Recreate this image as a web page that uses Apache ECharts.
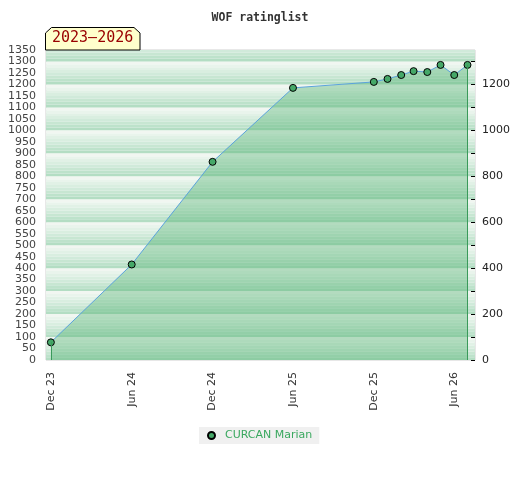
<!DOCTYPE html>
<html lang="en">

<head>
    <meta charset="UTF-8">
    <title>WOF ratinglist</title>
    <script src="https://cdn.jsdelivr.net/npm/echarts@6.0.0/dist/echarts.min.js"></script>
    <style>
        html, body { margin: 0; padding: 0; background: #fff; }
    </style>
</head>

<body>
    <div id="container" style="width: 520px; height: 480px"></div>
    <script>
        // rating list dates (month) and ratings
        var listDates = ['2023-12', '2024-06', '2024-12', '2025-06', '2025-12',
            '2026-01', '2026-02', '2026-03', '2026-04', '2026-05', '2026-06', '2026-07'];
        var ratings = [77, 416, 863, 1185, 1211, 1224, 1241, 1258, 1254, 1285, 1241, 1285];

        var xTickDates = ['2023-12', '2024-06', '2024-12', '2025-06', '2025-12', '2026-06'];
        var xTickLabels = ['Dec 23', 'Jun 24', 'Dec 24', 'Jun 25', 'Dec 25', 'Jun 26'];
        var rightTicks = [0, 100, 200, 300, 400, 500, 600, 700, 800, 900, 1000, 1100, 1200, 1300];

        var playerName = 'CURCAN Marian';
        var periodText = '2023\u20132026';

        // striped background, one 100 point block, top to bottom
        var stripeColors = ['#f1f6f1', '#e9f4ec', '#e1f1e6', '#d9eee0',
            '#d0eada', '#c7e6d2', '#bde2cb', '#b3ddc3'];

        // x is counted in days from 1 Dec 2023
        var DAY = 86400000;
        var baseTime = Date.UTC(2023, 11, 1);
        function toDay(s, day) {
            var p = s.split('-');
            return Math.round((Date.UTC(+p[0], +p[1] - 1, day || 1) - baseTime) / DAY);
        }

        var seriesData = [];
        for (var i = 0; i < listDates.length; i++) {
            seriesData.push([toDay(listDates[i]), ratings[i]]);
        }
        var tickDays = xTickDates.map(function (d) { return toDay(d); });

        var first = seriesData[0];
        var last = seriesData[seriesData.length - 1];

        var myChart = echarts.init(document.getElementById('container'));

        myChart.setOption({
            animation: false,
            title: {
                text: 'WOF ratinglist',
                left: 'center',
                top: 7,
                textStyle: {
                    fontFamily: 'DejaVu Sans Mono',
                    fontWeight: 'bold',
                    fontSize: 11.5,
                    color: '#333'
                }
            },
            graphic: [
                {
                    type: 'polygon',
                    shape: {
                        points: [[45.5, 50], [45.5, 33], [51.5, 27.5], [134, 27.5], [140, 33], [140, 50]]
                    },
                    style: { fill: '#ffffcc', stroke: '#000', lineWidth: 1 },
                    z: 10
                },
                {
                    type: 'text',
                    left: 52,
                    top: 31,
                    style: {
                        text: periodText,
                        fill: '#990000',
                        font: '15px "DejaVu Sans Mono"'
                    },
                    z: 11
                }
            ],
            legend: {
                data: [playerName],
                left: 199,
                top: 427,
                icon: 'circle',
                itemWidth: 7,
                itemHeight: 7,
                padding: [3, 7, 3, 8],
                backgroundColor: '#f0f0f0',
                textStyle: {
                    color: '#3aa85f',
                    fontSize: 11,
                    fontFamily: 'DejaVu Sans',
                    padding: [0, 0, 0, 5]
                }
            },
            grid: {
                left: 46,
                top: 50,
                width: 429,
                height: 310,
                show: true,
                borderColor: '#d0d0d0',
                borderWidth: 1,
                backgroundColor: 'transparent'
            },
            xAxis: {
                type: 'value',
                min: toDay('2023-11', 20),
                max: toDay('2026-07', 18),
                axisLine: { show: false },
                axisTick: { show: false },
                splitLine: { show: false },
                axisLabel: {
                    customValues: tickDays,
                    rotate: 90,
                    margin: 12,
                    fontSize: 11,
                    fontFamily: 'DejaVu Sans',
                    color: '#333',
                    formatter: function (value) {
                        var idx = tickDays.indexOf(value);
                        return idx >= 0 ? xTickLabels[idx] : '';
                    }
                }
            },
            yAxis: [
                {
                    type: 'value',
                    position: 'left',
                    min: 0,
                    max: 1350,
                    interval: 50,
                    axisLine: { show: false },
                    axisTick: { show: false },
                    splitLine: { show: false },
                    axisLabel: {
                        margin: 10,
                        fontSize: 11,
                        fontFamily: 'DejaVu Sans',
                        color: '#444',
                        formatter: function (v) { return String(v); }
                    }
                },
                {
                    type: 'value',
                    position: 'right',
                    min: 0,
                    max: 1350,
                    axisLine: { show: false },
                    axisTick: {
                        show: true,
                        inside: true,
                        length: 4,
                        customValues: rightTicks,
                        lineStyle: { color: '#000' }
                    },
                    splitLine: { show: false },
                    axisLabel: {
                        margin: 7,
                        fontSize: 11,
                        fontFamily: 'DejaVu Sans',
                        color: '#222',
                        customValues: rightTicks,
                        formatter: function (v) {
                            return v % 200 === 0 ? String(v) : '';
                        }
                    }
                },
                {
                    // only for the stripes
                    type: 'value',
                    position: 'left',
                    min: 0,
                    max: 1350,
                    interval: 12.5,
                    axisLine: { show: false },
                    axisTick: { show: false },
                    axisLabel: { show: false },
                    splitLine: { show: false },
                    splitArea: {
                        show: true,
                        areaStyle: { color: stripeColors.slice().reverse() }
                    }
                }
            ],
            series: [
                {
                    name: playerName,
                    type: 'line',
                    data: seriesData,
                    yAxisIndex: 0,
                    symbol: 'circle',
                    symbolSize: 7,
                    showAllSymbol: true,
                    itemStyle: {
                        color: '#45a868',
                        borderColor: '#000',
                        borderWidth: 1
                    },
                    lineStyle: { color: '#5ba3dc', width: 1 },
                    areaStyle: { color: 'rgba(80,176,112,0.55)', origin: 'start' },
                    markLine: {
                        silent: true,
                        symbol: ['none', 'none'],
                        label: { show: false },
                        lineStyle: { color: '#3a9a5a', width: 1, type: 'solid' },
                        data: [
                            [{ coord: [first[0], 0] }, { coord: [first[0], first[1]] }],
                            [{ coord: [last[0], 0] }, { coord: [last[0], last[1]] }]
                        ]
                    }
                }
            ]
        });
    </script>
</body>

</html>
